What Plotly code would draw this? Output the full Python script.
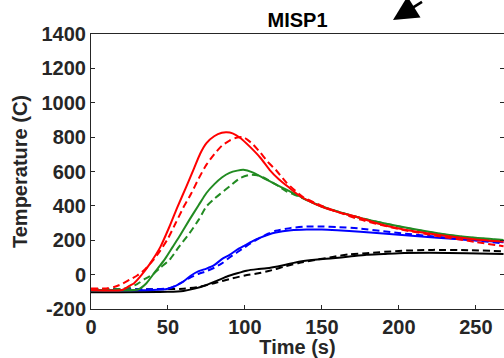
import plotly.graph_objects as go

# ---- data ----
red_solid_t = [0, 20, 25, 28, 33, 38, 45, 51, 56, 62, 67, 71, 75, 80, 85, 88, 92, 97, 103, 110, 116, 122, 129, 135, 142, 150, 160, 172, 185, 200, 225, 250, 268]
red_solid_T = [-90, -90, -65, -50, 0, 60, 160, 280, 390, 513, 620, 705, 765, 805, 825, 828, 822, 795, 746, 680, 610, 555, 504, 462, 426, 395, 365, 338, 300, 268, 232, 205, 192]

red_dash_t = [0, 10, 15, 20, 25, 30, 35, 40, 45, 50, 55, 60, 65, 70, 75, 80, 85, 90, 95, 98, 100, 105, 110, 115, 120, 127, 138, 150, 160, 175, 200, 225, 250, 268]
red_dash_T = [-80, -80, -72, -55, -30, -5, 30, 80, 140, 210, 300, 390, 470, 560, 640, 700, 750, 780, 798, 800, 795, 760, 710, 655, 610, 535, 450, 400, 365, 320, 265, 225, 190, 165]

green_solid_t = [0, 30, 32, 36, 42, 48, 53, 58, 64, 70, 75, 80, 85, 90, 95, 99, 105, 112, 120, 127, 135, 142, 150, 160, 175, 200, 233, 250, 268]
green_solid_T = [-90, -88, -80, -50, 20, 90, 160, 230, 320, 405, 475, 525, 565, 592, 605, 610, 595, 562, 525, 494, 458, 426, 395, 367, 330, 282, 231, 215, 202]

green_dash_t = [0, 20, 25, 30, 35, 40, 45, 51, 57, 64, 70, 75, 80, 84, 90, 97, 103, 108, 112, 120, 127, 135, 142, 150, 160, 175, 200, 233, 250, 268]
green_dash_T = [-85, -83, -75, -55, -25, 0, 40, 86, 160, 241, 320, 397, 440, 470, 513, 562, 580, 578, 565, 525, 484, 455, 426, 398, 368, 330, 280, 228, 212, 198]

blue_solid_t = [0, 40, 50, 55, 60, 65, 70, 75, 80, 85, 90, 95, 100, 105, 110, 115, 120, 130, 140, 150, 160, 175, 200, 225, 250, 268]
blue_solid_T = [-90, -90, -82, -65, -40, -5, 20, 35, 55, 90, 115, 145, 170, 195, 215, 232, 245, 258, 262, 262, 258, 250, 232, 215, 200, 188]

blue_dash_t = [0, 40, 50, 55, 60, 65, 70, 75, 80, 85, 90, 95, 100, 105, 110, 115, 120, 130, 140, 150, 160, 175, 190, 200, 225, 250, 268]
blue_dash_T = [-85, -85, -80, -65, -40, -15, 5, 20, 40, 65, 100, 130, 160, 190, 215, 238, 255, 272, 280, 280, 277, 268, 252, 242, 220, 198, 182]

black_solid_t = [0, 50, 60, 68, 75, 82, 88, 95, 101, 108, 114, 125, 136, 147, 157, 168, 179, 190, 200, 220, 244, 268]
black_solid_T = [-103, -100, -95, -80, -60, -35, -12, 8, 23, 32, 37, 55, 76, 88, 95, 105, 115, 120, 125, 127, 125, 120]

black_dash_t = [0, 40, 60, 71, 80, 92, 100, 107, 114, 120, 125, 135, 146, 157, 168, 179, 200, 222, 245, 268]
black_dash_T = [-85, -85, -82, -70, -50, -21, -5, 5, 18, 32, 45, 68, 86, 103, 118, 125, 138, 144, 142, 136]

y_ticks = [-200, 0, 200, 400, 600, 800, 1000, 1200, 1400]
x_ticks = [0, 50, 100, 150, 200, 250]

FONT = "Liberation Sans"
INK = "#262626"

series = [
    (black_solid_t, black_solid_T, "#000000", "solid"),
    (black_dash_t, black_dash_T, "#000000", "dash"),
    (blue_solid_t, blue_solid_T, "#0000ff", "solid"),
    (blue_dash_t, blue_dash_T, "#0000ff", "dash"),
    (green_solid_t, green_solid_T, "#228b22", "solid"),
    (green_dash_t, green_dash_T, "#228b22", "dash"),
    (red_solid_t, red_solid_T, "#ff0000", "solid"),
    (red_dash_t, red_dash_T, "#ff0000", "dash"),
]

fig = go.Figure()
for t, T, c, d in series:
    fig.add_trace(go.Scatter(
        x=t, y=T, mode="lines",
        line=dict(color=c, width=2, dash="7px,4px" if d == "dash" else "solid", shape="spline", smoothing=0.6),
        showlegend=False, hoverinfo="skip"))

fig.update_layout(
    width=504, height=358,
    margin=dict(l=91, r=0, t=34, b=49),
    paper_bgcolor="white", plot_bgcolor="white",
    font=dict(family=FONT, color=INK),
    title=dict(text="<b>MISP1</b>", x=0.5, xref="paper", xanchor="center",
               y=1 - 19.5 / 358, yref="container", yanchor="middle",
               font=dict(size=20, color="#000000", family=FONT)),
    showlegend=False,
)
fig.update_xaxes(
    range=[0, 268.3], tickvals=x_ticks, ticktext=[f"<b>{v}</b>" for v in x_ticks],
    ticks="inside", ticklen=4, tickwidth=1, tickcolor=INK,
    showline=True, linecolor=INK, linewidth=1, mirror=True,
    showgrid=False, zeroline=False,
    tickfont=dict(size=20, color=INK, family=FONT),
    title=dict(text="<b>Time (s)</b>", font=dict(size=20, color=INK, family=FONT), standoff=0),
    automargin=False,
)
fig.update_yaxes(
    range=[-200, 1400], tickvals=y_ticks, ticktext=[f"<b>{v}</b>" for v in y_ticks],
    ticks="inside", ticklen=4, tickwidth=1, tickcolor=INK,
    showline=True, linecolor=INK, linewidth=1, mirror="ticks",
    showgrid=False, zeroline=False,
    tickfont=dict(size=20, color=INK, family=FONT),
    title=dict(text="<b>Temperature (C)</b>", font=dict(size=20, color=INK, family=FONT), standoff=8),
    automargin=False,
)
fig.add_annotation(
    x=(393 - 91) / 413, y=(309 - 20) / 275, xref="paper", yref="paper", text=" ", showarrow=True,
    ax=32, ay=-30, axref="pixel", ayref="pixel",
    arrowhead=2, arrowsize=1.9, arrowwidth=2.6, arrowcolor="#000000", standoff=0,
)
fig.write_html("out.html")
